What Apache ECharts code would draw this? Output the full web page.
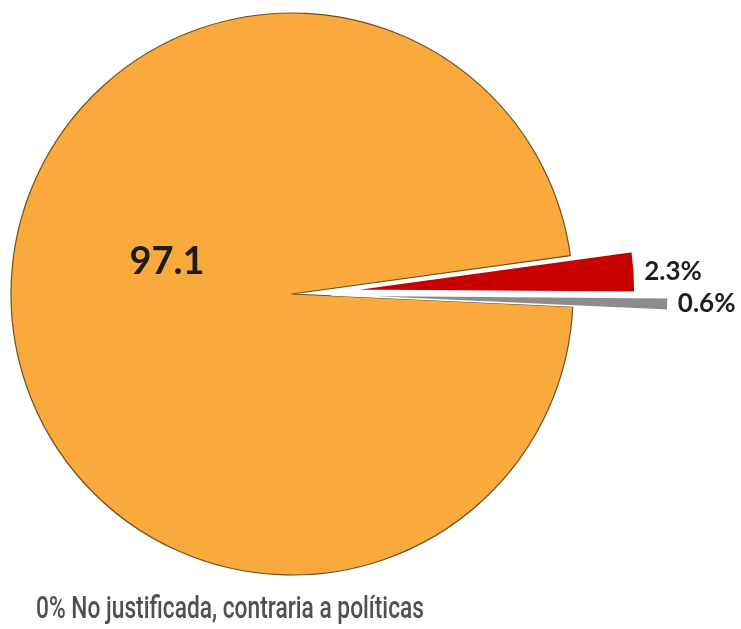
<!DOCTYPE html>
<html><head><meta charset="utf-8">
<script src="https://cdn.jsdelivr.net/npm/echarts@6/dist/echarts.min.js"></script>
<style>html,body{margin:0;padding:0;background:#fff}#c{width:741px;height:629px}</style>
</head><body><div id="c"></div>
<script>
const categories = ['Justificada', 'Justificada con observaciones', 'Otra'];
const values = [97.1, 2.3, 0.6];
const colors = ['#FAAA3C', '#C80000', '#8C8C8C'];
const caption = '0% No justificada, contraria a políticas';

const chart = echarts.init(document.getElementById('c'), null, {renderer: 'canvas'});
const C = [292, 294];
const START = 357.4;

function layer(idx, radius, offset) {
  return {
    type: 'pie', silent: true, animation: false, clockwise: true,
    startAngle: START, center: C, radius: radius,
    selectedMode: 'multiple', selectedOffset: offset,
    avoidLabelOverlap: false,
    labelLine: { show: false, length: 5, length2: 0 },
    z: 2,
    data: categories.map((name, i) => ({
      name: name,
      value: values[i],
      selected: i === idx && offset > 0,
      itemStyle: i === idx
        ? (idx === 0
            ? { color: colors[i], borderColor: '#6d5021', borderWidth: 1.2 }
            : { color: colors[i], borderColor: '#ffffff', borderWidth: 1.5 })
        : { color: 'rgba(0,0,0,0)', borderWidth: 0 },
      select: { itemStyle: i === idx ? { color: colors[i] } : { color: 'rgba(0,0,0,0)', borderWidth: 0 } },
      label: {
        show: i === idx && idx > 0,
        position: 'outside',
        formatter: '{c}%',
        fontFamily: 'Lato', fontWeight: 'bold', fontSize: 26, color: '#1e1e1e'
      }
    }))
  };
}

// measure caption to fit reference width
const cv = document.createElement('canvas').getContext('2d');
const capFont = '500 31px "Liberation Sans Narrow", Roboto, sans-serif';
cv.font = capFont;
const capW = cv.measureText(caption).width;
const capScale = 388 / capW;

chart.setOption({
  backgroundColor: '#ffffff',
  series: [
    layer(0, 281, 0),
    layer(1, 283, 60),
    layer(2, 336, 40)
  ],
  graphic: [
    {
      type: 'text', x: 167, y: 262, silent: true, z: 100,
      style: {
        text: String(values[0]),
        font: 'bold 38px Lato', fill: '#1c1c1c',
        textAlign: 'center', textVerticalAlign: 'middle'
      }
    },
    {
      type: 'text', x: 36, y: 610, scaleX: capScale, silent: true, z: 100,
      style: {
        text: caption, font: capFont, fill: '#4f5053',
        textAlign: 'left', textVerticalAlign: 'middle'
      }
    }
  ]
});
</script></body></html>
